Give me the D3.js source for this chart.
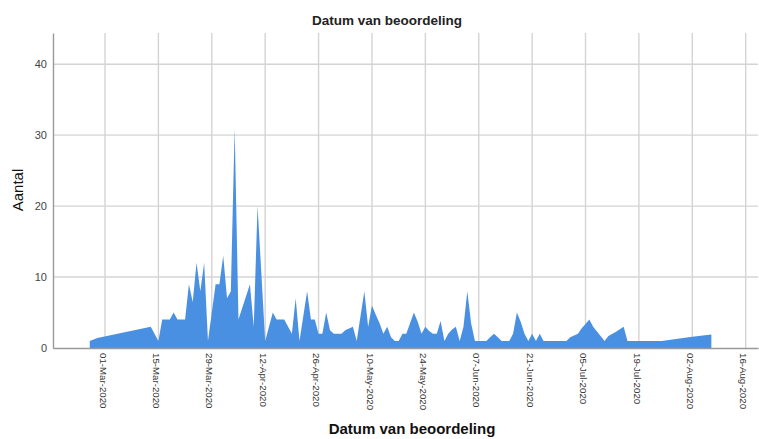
<!DOCTYPE html>
<html>
<head>
<meta charset="utf-8">
<script src="https://cdn.jsdelivr.net/npm/d3@7"></script>
<style>
  body { margin: 0; background: #fff; }
  svg { font-family: "Liberation Sans", Arial, sans-serif; }
</style>
</head>
<body>
<div id="chart-area"></div>
<script>
// Aantal beoordelingen per dag
const dates = [
  "2020-02-26", "2020-02-28", "2020-03-13", "2020-03-15", "2020-03-16", "2020-03-18",
  "2020-03-19", "2020-03-20", "2020-03-22", "2020-03-23", "2020-03-24", "2020-03-25",
  "2020-03-26", "2020-03-27", "2020-03-28", "2020-03-30", "2020-03-31", "2020-04-01",
  "2020-04-02", "2020-04-03", "2020-04-04", "2020-04-05", "2020-04-08", "2020-04-09",
  "2020-04-10", "2020-04-12", "2020-04-14", "2020-04-15", "2020-04-17", "2020-04-19",
  "2020-04-20", "2020-04-21", "2020-04-23", "2020-04-24", "2020-04-25", "2020-04-26",
  "2020-04-27", "2020-04-28", "2020-04-29", "2020-04-30", "2020-05-02", "2020-05-03",
  "2020-05-05", "2020-05-06", "2020-05-08", "2020-05-09", "2020-05-10", "2020-05-11",
  "2020-05-12", "2020-05-13", "2020-05-14", "2020-05-15", "2020-05-16", "2020-05-17",
  "2020-05-18", "2020-05-19", "2020-05-21", "2020-05-22", "2020-05-23", "2020-05-24",
  "2020-05-25", "2020-05-26", "2020-05-27", "2020-05-28", "2020-05-29", "2020-05-30",
  "2020-05-31", "2020-06-01", "2020-06-02", "2020-06-03", "2020-06-04", "2020-06-05",
  "2020-06-06", "2020-06-09", "2020-06-10", "2020-06-11", "2020-06-12", "2020-06-13",
  "2020-06-15", "2020-06-16", "2020-06-17", "2020-06-18", "2020-06-19", "2020-06-20",
  "2020-06-21", "2020-06-22", "2020-06-23", "2020-06-24", "2020-06-30", "2020-07-01",
  "2020-07-03", "2020-07-04", "2020-07-05", "2020-07-06", "2020-07-07", "2020-07-10",
  "2020-07-11", "2020-07-13", "2020-07-15", "2020-07-16", "2020-07-25", "2020-08-02",
  "2020-08-07"
];
const counts = [
  1, 1.4, 3, 1, 4, 4,
  5, 4, 4, 9, 6.5, 12,
  8, 12, 1, 9, 9, 13,
  7, 8, 31, 4, 9, 3,
  20, 1, 5, 4, 4, 2,
  7, 1, 8, 4, 4, 2,
  2, 5, 2.5, 2, 2, 2.5,
  3, 1, 8, 3, 6, 4.7,
  3.5, 2, 3, 1.5, 1, 1,
  2, 2, 5, 3.7, 2, 3,
  2.4, 2, 2, 3.8, 1, 2,
  2.6, 3, 1, 3, 8, 3.5,
  1, 1, 1.5, 2, 1.5, 1,
  1, 2, 5, 3.7, 2, 1,
  2, 1, 2, 1, 1, 1.5,
  2, 2.8, 3.4, 4, 3, 1,
  1.7, 2.3, 3, 1, 1, 1.6,
  1.9
];
const xTickDates = [
  "2020-03-01", "2020-03-15", "2020-03-29", "2020-04-12", "2020-04-26", "2020-05-10",
  "2020-05-24", "2020-06-07", "2020-06-21", "2020-07-05", "2020-07-19", "2020-08-02",
  "2020-08-16"
];
const yTicks = [0, 10, 20, 30, 40];

const WIDTH = 759, HEIGHT = 439;
const PLOT = { LEFT: 53, RIGHT: 758, TOP: 33, BOTTOM: 348 };

const parse = d3.utcParse("%Y-%m-%d");
const fmt = d3.utcFormat("%d-%b-%Y");
const data = dates.map((d, i) => ({ date: parse(d), value: counts[i] }));
const ticks = xTickDates.map(parse);

// place 01-Mar and 02-Aug on their gridlines, then stretch to the plot edges
const anchor = d3.scaleUtc()
  .domain([parse("2020-03-01"), parse("2020-08-02")])
  .range([105, 692.3]);
const x = d3.scaleUtc()
  .domain([anchor.invert(PLOT.LEFT), anchor.invert(PLOT.RIGHT)])
  .range([PLOT.LEFT, PLOT.RIGHT]);

const y = d3.scaleLinear()
  .domain([0, 44.4])
  .range([PLOT.BOTTOM, PLOT.TOP]);

const svg = d3.select("#chart-area").append("svg")
  .attr("width", WIDTH)
  .attr("height", HEIGHT);

// gridlines
svg.append("g")
  .selectAll("line").data(ticks).enter().append("line")
    .attr("x1", d => x(d)).attr("x2", d => x(d))
    .attr("y1", PLOT.TOP).attr("y2", PLOT.BOTTOM)
    .attr("stroke", "#d4d4d4").attr("stroke-width", 1.4);

svg.append("g")
  .selectAll("line").data(yTicks.filter(d => d > 0)).enter().append("line")
    .attr("x1", PLOT.LEFT).attr("x2", PLOT.RIGHT)
    .attr("y1", d => y(d)).attr("y2", d => y(d))
    .attr("stroke", "#d4d4d4").attr("stroke-width", 1.4);

// area
const area = d3.area()
  .x(d => x(d.date))
  .y0(y(0))
  .y1(d => y(d.value));

svg.append("path")
  .datum(data)
  .attr("d", area)
  .attr("fill", "#4a90e2");

// y axis
const leftAxis = d3.axisLeft(y)
  .tickValues(yTicks)
  .tickSize(0)
  .tickPadding(6);
const gy = svg.append("g")
  .attr("transform", `translate(${PLOT.LEFT},0)`)
  .call(leftAxis);
gy.select(".domain").attr("stroke", "#999").attr("stroke-width", 1.4);
gy.selectAll("text")
  .attr("font-size", "11px")
  .attr("font-family", "Liberation Sans, Arial, sans-serif")
  .attr("fill", "#444");

// x axis
const bottomAxis = d3.axisBottom(x)
  .tickValues(ticks)
  .tickSize(0)
  .tickFormat(fmt);
const gx = svg.append("g")
  .attr("transform", `translate(0,${PLOT.BOTTOM})`)
  .call(bottomAxis);
gx.select(".domain").attr("stroke", "#999").attr("stroke-width", 1.4);
gx.selectAll("text")
  .attr("font-size", "9.7px")
  .attr("font-family", "Liberation Sans, Arial, sans-serif")
  .attr("fill", "#333")
  .attr("text-anchor", "start")
  .attr("y", 0)
  .attr("dy", "0.6em")
  .attr("transform", "translate(0,5) rotate(90)");

// titles
svg.append("text")
  .attr("x", 387).attr("y", 25)
  .attr("text-anchor", "middle")
  .attr("font-size", "13.5px")
  .attr("font-weight", "bold")
  .attr("fill", "#222")
  .text("Datum van beoordeling");

svg.append("text")
  .attr("x", 412).attr("y", 434)
  .attr("text-anchor", "middle")
  .attr("font-size", "15px")
  .attr("font-weight", "bold")
  .attr("fill", "#111")
  .text("Datum van beoordeling");

svg.append("text")
  .attr("transform", "translate(23,190) rotate(-90)")
  .attr("text-anchor", "middle")
  .attr("font-size", "15px")
  .attr("fill", "#111")
  .text("Aantal");
</script>
</body>
</html>
